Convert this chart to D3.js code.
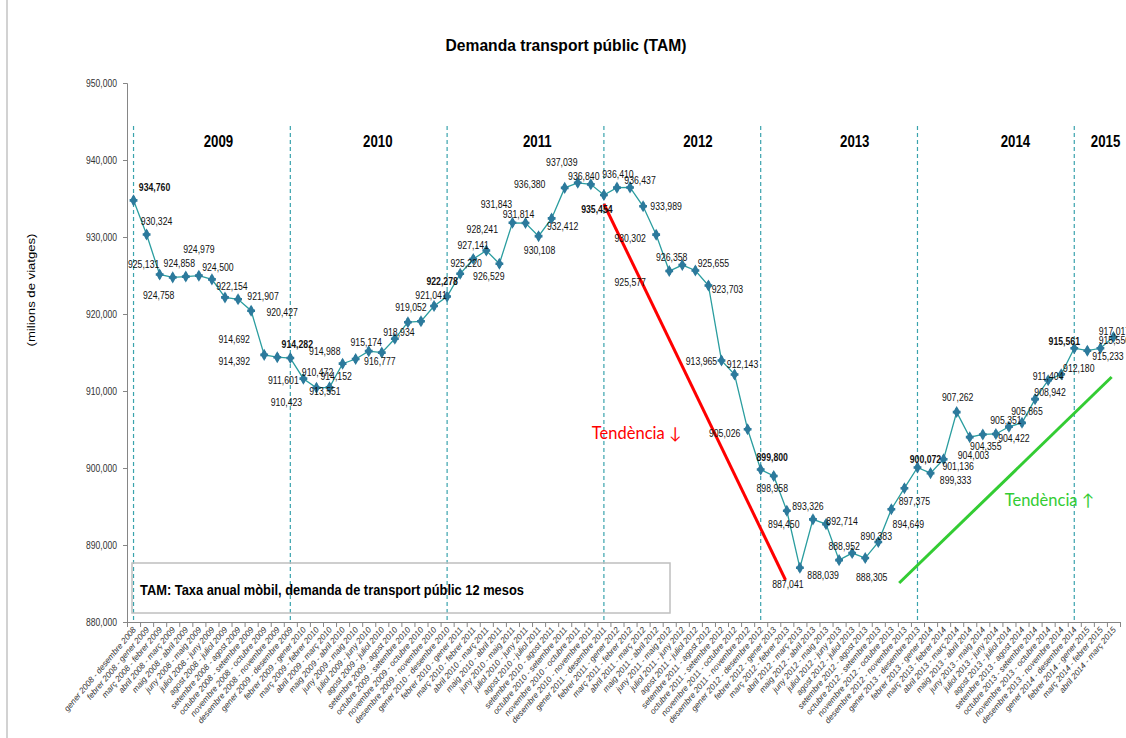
<!DOCTYPE html>
<html><head><meta charset="utf-8">
<script src="https://cdn.jsdelivr.net/npm/d3@7"></script>
<style>
html,body{margin:0;padding:0;background:#fff;}
svg{display:block;}
</style></head>
<body>
<svg id="chart" width="1126" height="738"></svg>
<script>
// ---- data ----
const monthNames = ['gener','febrer','març','abril','maig','juny','juliol','agost','setembre','octubre','novembre','desembre'];
const firstYear = 2008;
const values = [934760, 930324, 925131, 924758, 924858, 924979, 924500, 922154, 921907, 920427,
  914692, 914392, 914282, 911601, 910423, 910472, 913551, 914152, 915174, 914988,
  916777, 918934, 919052, 921041, 922278, 925220, 927141, 928241, 926529, 931843,
  931814, 930108, 932412, 936380, 937039, 936840, 935454, 936410, 936437, 933989,
  930302, 925577, 926358, 925655, 923703, 913965, 912143, 905026, 899800, 898958,
  894450, 887041, 893326, 892714, 888039, 888952, 888305, 890383, 894649, 897375,
  900072, 899333, 901136, 907262, 904003, 904355, 904422, 905351, 905865, 908942,
  911404, 912180, 915561, 915233, 915550, 917017];
const categories = values.map((v, i) => {
  const sm = i % 12, sy = firstYear + Math.floor(i / 12);
  const em = (i + 11) % 12, ey = firstYear + Math.floor((i + 11) / 12);
  return monthNames[sm] + ' ' + sy + ' - ' + monthNames[em] + ' ' + ey;
});
const yearLabels = ['2009','2010','2011','2012','2013','2014','2015'];
const yearLabelAt = [6.5, 18.7, 30.9, 43.2, 55.2, 67.5, 74.4];   // category index
const yearBoundaries = [0, 12, 24, 36, 48, 60, 72];               // category index (December values, bold)
const yTicks = [880000, 890000, 900000, 910000, 920000, 930000, 940000, 950000];
const trendDown = [[36, 934286], [49.9, 885455]];
const trendUp = [[58.6, 885065], [74.86, 911818]];
const trendDownLabel = {text: 'Tendència ↓', at: [38.5, 904545]};
const trendUpLabel = {text: 'Tendència ↑', at: [70.1, 895844]};
// label offsets (px) relative to each point
const labelOffsets = [[21,-13],[10,-13.5],[-16,-10],[-14,18],[-6.5,-13],[0,-26],[6,-12],[7,-11],[25,-3],[31,1],
 [-30,-15.5],[-43,4],[7,-13.5],[-20,1.5],[-30,14],[-12,-15],[-17.6,28],[-19.5,17],[-2.5,-9],[-57,-1],
 [-15,22],[-9,10],[-10,-14],[-3,-11],[-5,-15],[6,-11],[0,-14],[-4,-21],[-10.6,12],[-16,-19],
 [-7,-8.5],[1,14],[11,8],[-35,-4],[-16,-21],[-7,-8],[-7,14],[1,-13],[10,-7],[23,0],
 [-26,3],[-39,11],[-10.6,-7.7],[18,-7],[19,3.6],[-20,1],[8,-10],[-23,4],[11.5,-12.7],[-1.5,12.4],
 [-3,13.6],[-12,16],[-5,-13.7],[16,-3],[-16,14.6],[-8,-7],[6.5,18.7],[-2,-5.5],[17,15],[10,13],
 [8,-8],[25,7],[14.5,7],[1,-15],[3.7,17.6],[3,12],[18,4.5],[-3,-7],[5,-12],[15,-7],
 [0,-4],[17.6,-6],[-10,-7],[20.6,5.5],[14,-8],[1,-6]];

// ---- layout ----
const SANS = "'Liberation Sans',Arial,sans-serif";
const plot = {left: 127, right: 1120, top: 83, bottom: 622};
const svg = d3.select('#chart');

// condense texts horizontally around their anchor x (narrow-font look)
function condense(sel, factor) {
  sel.each(function () {
    const ax = +this.getAttribute('x') || 0;
    const prev = this.getAttribute('transform') || '';
    d3.select(this).attr('transform', `${prev} translate(${ax},0) scale(${factor},1) translate(${-ax},0)`);
  });
}
function factorFor(style, sample, target) {
  const t = svg.append('text').text(sample);
  Object.entries(style).forEach(([k, v]) => t.style(k, v));
  const f = target / t.node().getComputedTextLength();
  t.remove();
  return f;
}

svg.append('rect').attr('x', 7).attr('y', -5).attr('width', 1140).attr('height', 760)
  .attr('fill', 'none').attr('stroke', '#a6a6a6').attr('stroke-width', 1);

const xBand = d3.scaleBand().domain(d3.range(values.length)).range([plot.left, plot.right]).padding(0);
const x = d3.scaleLinear().domain([-0.5, values.length - 0.5]).range([plot.left, plot.right]);
const y = d3.scaleLinear().domain([880000, 950000]).range([plot.bottom, plot.top]);

// title
const title = svg.append('text').attr('x', 566).attr('y', 51).attr('text-anchor', 'middle')
  .style('font-family', SANS).style('font-weight', 'bold').style('font-size', '17px')
  .attr('fill', '#000').text('Demanda transport públic (TAM)');
condense(title, 241 / title.node().getComputedTextLength());

// y axis title
const yt = svg.append('text').attr('transform', 'translate(35,290) rotate(-90)').attr('text-anchor', 'middle')
  .style('font-family', SANS).style('font-size', '10.5px')
  .attr('fill', '#000').text('(milions de viatges)');
condense(yt, 113 / yt.node().getComputedTextLength());

// y axis
const yAxis = svg.append('g').attr('transform', `translate(${plot.left},0)`)
  .call(d3.axisLeft(y).tickValues(yTicks).tickFormat(d3.format(',')).tickSize(4).tickPadding(6));
yAxis.select('.domain').attr('stroke', '#868686');
yAxis.selectAll('.tick line').attr('stroke', '#868686');
const yTickText = yAxis.selectAll('.tick text').style('font-family', SANS).style('font-size', '11px').attr('fill', '#333');
condense(yTickText, factorFor({'font-family': SANS, 'font-size': '11px'}, '950,000', 31));

// x axis (ticks at category boundaries)
const xAxis = svg.append('g').attr('transform', `translate(0,${plot.bottom})`)
  .call(d3.axisBottom(x).tickValues(d3.range(values.length + 1).map(i => i - 0.5)).tickSize(5).tickFormat(''));
xAxis.select('.domain').attr('stroke', '#868686');
xAxis.selectAll('.tick line').attr('stroke', '#868686');

// x labels
const xLab = svg.append('g').attr('transform', `translate(0,${plot.bottom})`)
  .call(d3.axisBottom(xBand).tickSize(0).tickFormat(i => categories[i]));
xLab.select('.domain').remove();
xLab.selectAll('.tick text').attr('text-anchor', 'end').attr('dy', 0).attr('y', 0)
  .attr('transform', 'translate(3,8) rotate(-50)')
  .style('font-family', SANS).style('font-size', '8.3px')
  .style('font-style', 'italic').attr('fill', '#333');

// year boundaries
svg.append('g').selectAll('line').data(yearBoundaries).join('line')
  .attr('x1', d => x(d)).attr('x2', d => x(d))
  .attr('y1', 126).attr('y2', plot.bottom)
  .attr('stroke', '#3aa3ad').attr('stroke-width', 1.2).attr('stroke-dasharray', '4,3');

// year labels
const yl = svg.append('g').selectAll('text').data(yearLabels).join('text')
  .attr('x', (d, i) => x(yearLabelAt[i])).attr('y', 147).attr('text-anchor', 'middle')
  .style('font-family', SANS).style('font-weight', 'bold').style('font-size', '16px')
  .attr('fill', '#000').text(d => d);
condense(yl, factorFor({'font-family': SANS, 'font-size': '16px', 'font-weight': 'bold'}, '2009', 29.5));

// legend box
svg.append('rect').attr('x', 132).attr('y', 563).attr('width', 538).attr('height', 50)
  .attr('fill', 'none').attr('stroke', '#bfbfbf').attr('stroke-width', 1.5);
const lt = svg.append('text').attr('x', 140).attr('y', 595)
  .style('font-family', SANS).style('font-weight', 'bold').style('font-size', '15px')
  .attr('fill', '#000').text('TAM: Taxa anual mòbil, demanda de transport públic 12 mesos');
condense(lt, 384 / lt.node().getComputedTextLength());

// series line
const line = d3.line().x((d, i) => x(i)).y(d => y(d));
svg.append('path').datum(values).attr('d', line)
  .attr('fill', 'none').attr('stroke', '#2a9d9f').attr('stroke-width', 1.3);

// markers
const mk = svg.append('g').selectAll('g').data(values).join('g')
  .attr('transform', (d, i) => `translate(${x(i)},${y(d)})`);
mk.append('path').attr('d', d3.symbol(d3.symbolDiamond, 42)).attr('fill', '#2c7a9c');
mk.append('path').attr('d', d3.symbol(d3.symbolCross, 34)).attr('fill', '#2c7a9c');

// trend lines
const tl = d3.line().x(d => x(d[0])).y(d => y(d[1]));
svg.append('path').datum(trendDown).attr('d', tl).attr('stroke', '#ff0000').attr('stroke-width', 3).attr('fill', 'none');
svg.append('path').datum(trendUp).attr('d', tl).attr('stroke', '#33cc33').attr('stroke-width', 3).attr('fill', 'none');
svg.append('text').attr('x', x(trendDownLabel.at[0])).attr('y', y(trendDownLabel.at[1])).attr('dy', '0.35em')
  .attr('text-anchor', 'middle').style('font-family', 'Lato, Open Sans, sans-serif').style('font-size', '16.5px')
  .attr('fill', '#ff0000').text(trendDownLabel.text);
svg.append('text').attr('x', x(trendUpLabel.at[0])).attr('y', y(trendUpLabel.at[1])).attr('dy', '0.35em')
  .attr('text-anchor', 'middle').style('font-family', 'Lato, Open Sans, sans-serif').style('font-size', '16.5px')
  .attr('fill', '#33cc33').text(trendUpLabel.text);

// data labels
const fmt = d3.format(',');
const dl = svg.append('g').selectAll('text').data(values).join('text')
  .attr('x', (d, i) => x(i) + labelOffsets[i][0])
  .attr('y', (d, i) => y(d) + labelOffsets[i][1])
  .attr('dy', '0.35em').attr('text-anchor', 'middle')
  .style('font-family', SANS).style('font-size', '11px')
  .style('font-weight', (d, i) => yearBoundaries.includes(i) ? 'bold' : 'normal')
  .attr('fill', '#111').text(d => fmt(d));
condense(dl, factorFor({'font-family': SANS, 'font-size': '11px'}, '934,760', 31.5));
</script>
</body></html>
